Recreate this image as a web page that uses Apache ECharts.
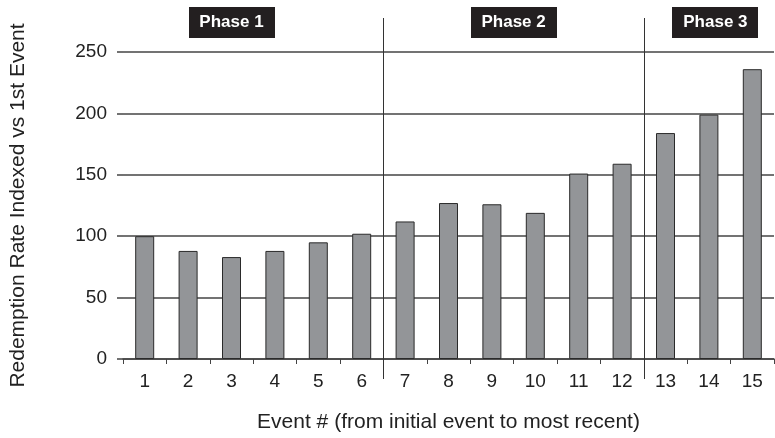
<!DOCTYPE html>
<html>
<head>
<meta charset="utf-8">
<script src="https://cdn.jsdelivr.net/npm/echarts@6/dist/echarts.min.js"></script>
<style>
html,body{margin:0;padding:0;background:#fff;}
#chart{width:775px;height:438px;}
</style>
</head>
<body>
<div id="chart"></div>
<script>
var categories = ['1','2','3','4','5','6','7','8','9','10','11','12','13','14','15'];
var values = [100, 88, 83, 88, 95, 102, 112, 127, 126, 119, 151, 159, 184, 199, 236];
var yTicks = [0, 50, 100, 150, 200, 250];
var phaseNames = ['Phase 1', 'Phase 2', 'Phase 3'];
var phaseCenters = [2.5, 9, 13.65];  // category-index position of label centers
var phaseBoundaries = [6, 12];       // category boundaries where dividers are drawn

var FONT = '"Liberation Sans", Arial, Helvetica, sans-serif';
var chart = echarts.init(document.getElementById('chart'), null, {renderer: 'canvas'});

var option = {
  animation: false,
  backgroundColor: '#ffffff',
  grid: {left: 118, right: 1, top: 52, bottom: 77, containLabel: false},
  xAxis: [{
    type: 'category',
    data: categories,
    name: 'Event # (from initial event to most recent)',
    nameLocation: 'middle',
    nameGap: 53,
    nameTextStyle: {fontFamily: FONT, fontSize: 21, color: '#222'},
    axisLine: {show: true, lineStyle: {color: '#444', width: 1.5}},
    axisTick: {show: true, alignWithLabel: false, length: 5, lineStyle: {color: '#444', width: 1}},
    axisLabel: {fontFamily: FONT, fontSize: 19, color: '#222', margin: 13},
    splitLine: {show: false}
  }, {
    type: 'value', min: 0, max: categories.length, show: false
  }],
  yAxis: {
    type: 'value',
    min: yTicks[0],
    max: yTicks[yTicks.length - 1],
    interval: 50,
    name: 'Redemption Rate Indexed vs 1st Event',
    nameLocation: 'middle',
    nameGap: 94,
    nameTextStyle: {fontFamily: FONT, fontSize: 21, color: '#222'},
    axisLine: {show: false},
    axisTick: {show: true, length: 6, lineStyle: {color: '#444', width: 1.5}},
    axisLabel: {fontFamily: FONT, fontSize: 19, color: '#222', margin: 16},
    splitLine: {show: true, lineStyle: {color: '#444', width: 1.5}}
  },
  series: [{
    type: 'bar',
    xAxisIndex: 0,
    data: values,
    barWidth: 19,
    itemStyle: {color: '#939598', borderColor: '#2a2a2a', borderWidth: 1}
  }]
};
chart.setOption(option);

function drawAnnotations() {
  var graphics = [];
  var yTop = chart.convertToPixel({yAxisIndex: 0}, 250) - 34;
  var yBottom = chart.convertToPixel({yAxisIndex: 0}, 0) + 20;
  phaseBoundaries.forEach(function (b) {
    var x = Math.round(chart.convertToPixel({xAxisIndex: 1}, b)) + 0.5;
    graphics.push({
      type: 'line', z: 100,
      shape: {x1: x, y1: yTop, x2: x, y2: yBottom},
      style: {stroke: '#333', lineWidth: 1}
    });
  });
  phaseNames.forEach(function (name, i) {
    var cx = chart.convertToPixel({xAxisIndex: 1}, phaseCenters[i]);
    var w = 86, h = 31;
    graphics.push({
      type: 'rect', z: 110,
      shape: {x: Math.round(cx - w / 2), y: 7, width: w, height: h},
      style: {fill: '#231f20'}
    });
    graphics.push({
      type: 'text', z: 111,
      x: cx, y: 7 + h / 2,
      style: {text: name, fill: '#ffffff', font: 'bold 17px ' + FONT, align: 'center', verticalAlign: 'middle'}
    });
  });
  chart.setOption({graphic: graphics});
}
drawAnnotations();
</script>
</body>
</html>
